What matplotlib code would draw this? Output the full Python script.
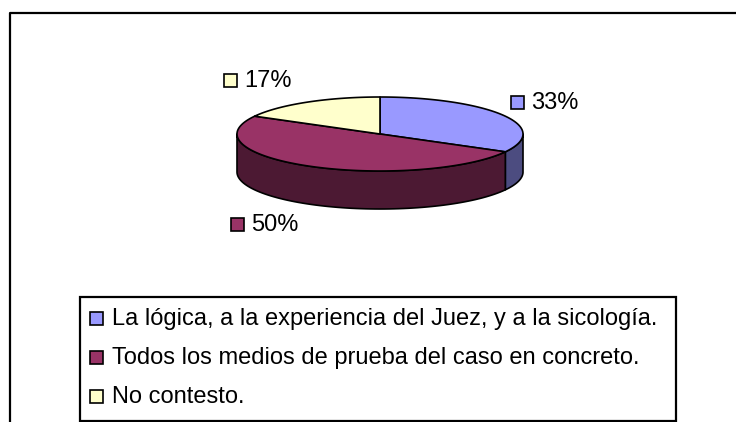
import numpy as np
import matplotlib
matplotlib.use('Agg')
import matplotlib.pyplot as plt
from matplotlib.patches import Polygon, Rectangle

plt.rcParams['font.family'] = ['Liberation Sans', 'DejaVu Sans']

## data
categories = ['La lógica, a la experiencia del Juez, y a la sicología.',
              'Todos los medios de prueba del caso en concreto.',
              'No contesto.']
values = [33, 50, 17]
pct_labels = ['33%', '50%', '17%']
top_colors = ['#9999FF', '#993366', '#FFFFCC']
side_colors = ['#4C4C80', '#4C1933', '#80806A']

## layout (pixels)
W, H = 736, 422
cx, cy = 380, 134      # centre of top face
rx, ry = 143, 37       # ellipse radii
depth = 38
label_pos = [(511, 102), (231, 224), (224, 80)]   # left edge of key, vertical centre
fs = 17

fig = plt.figure(figsize=(W / 100, H / 100), dpi=100)
ax = fig.add_axes([0, 0, 1, 1])
ax.set_xlim(0, W)
ax.set_ylim(H, 0)
ax.axis('off')

# chart frame (cut off on right and bottom)
ax.plot([9.5, 9.5, W + 5], [H + 5, 12.5, 12.5], color='black', lw=1.6, solid_capstyle='butt')


def pt(theta, dy=0.0):
    t = np.radians(theta)
    return cx + rx * np.sin(t), cy - ry * np.cos(t) + dy


# slice angles, clockwise from 12 o'clock
total = float(sum(values))
edges = np.concatenate([[0], np.cumsum(values) / total * 360])

# side walls first (only the front half, 90..270 deg)
for i in range(len(values)):
    a = max(edges[i], 90)
    b = min(edges[i + 1], 270)
    if b <= a:
        continue
    th = np.linspace(a, b, 80)
    top = [pt(t) for t in th]
    bot = [pt(t, depth) for t in th[::-1]]
    ax.add_patch(Polygon(top + bot, closed=True, facecolor=side_colors[i],
                         edgecolor='black', lw=1.2, joinstyle='round'))

# top faces
for i in range(len(values)):
    th = np.linspace(edges[i], edges[i + 1], 120)
    verts = [(cx, cy)] + [pt(t) for t in th]
    ax.add_patch(Polygon(verts, closed=True, facecolor=top_colors[i],
                         edgecolor='black', lw=1.2, joinstyle='round'))

# data labels with keys
for i, (lx, ly) in enumerate(label_pos):
    ax.add_patch(Rectangle((lx, ly - 6.5), 13, 13, facecolor=top_colors[i],
                           edgecolor='black', lw=1.2))
    ax.text(lx + 20, ly + 1, pct_labels[i], fontsize=fs, ha='left', va='center')

# legend box
ax.add_patch(Rectangle((79.5, 296.5), 596.5, 124, facecolor='white',
                       edgecolor='black', lw=1.6))
row_y = [318, 357, 396]
for i, name in enumerate(categories):
    ax.add_patch(Rectangle((90, row_y[i] - 6.5), 13, 13, facecolor=top_colors[i],
                           edgecolor='black', lw=1.2))
    ax.text(112, row_y[i] + 1, name, fontsize=fs, ha='left', va='center')

fig.savefig('out.png', dpi=100)
